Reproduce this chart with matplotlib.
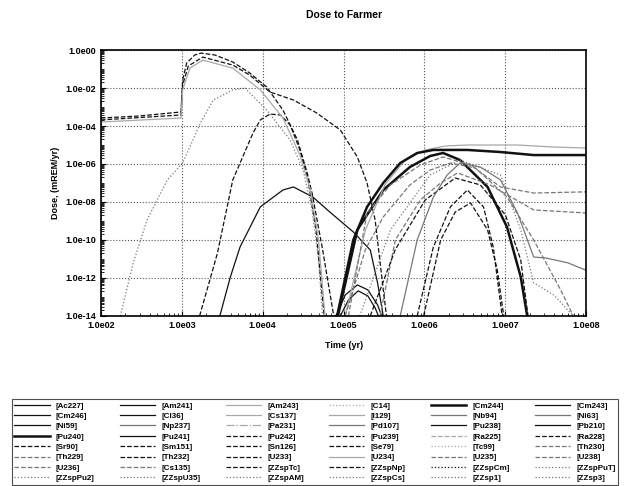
import numpy as np
import matplotlib.pyplot as plt
from matplotlib.ticker import FixedLocator, FuncFormatter, LogLocator, NullFormatter

plt.rcParams['font.family'] = ['Liberation Sans', 'DejaVu Sans']
plt.rcParams['font.weight'] = 'bold'

# legend entries, column by column (6 columns x 8 rows)
labels = [
    '[Ac227]', '[Cm246]', '[Ni59]', '[Pu240]', '[Sr90]', '[Th229]', '[U236]', '[ZZspPu2]',
    '[Am241]', '[Cl36]', '[Np237]', '[Pu241]', '[Sm151]', '[Th232]', '[Cs135]', '[ZZspU35]',
    '[Am243]', '[Cs137]', '[Pa231]', '[Pu242]', '[Sn126]', '[U233]', '[ZZspTc]', '[ZZspAM]',
    '[C14]', '[I129]', '[Pd107]', '[Pu239]', '[Se79]', '[U234]', '[ZZspNp]', '[ZZspCs]',
    '[Cm244]', '[Nb94]', '[Pu238]', '[Ra225]', '[Tc99]', '[U235]', '[ZZspCm]', '[ZZsp1]',
    '[Cm243]', '[Ni63]', '[Pb210]', '[Ra228]', '[Th230]', '[U238]', '[ZZspPuT]', '[ZZsp3]',
]

# log10(time yr), log10(dose mREM/yr)
curves = {
    '[Ac227]': ([3.47, 3.60, 3.72, 3.97, 4.25, 4.38, 4.62, 4.83, 5.12, 5.33, 5.42, 5.49],
                [-14, -11.95, -10.37, -8.26, -7.37, -7.21, -7.74, -8.53, -9.58, -10.53, -12.26, -14]),
    '[Cm246]': ([4.91, 5.02, 5.17, 5.30, 5.42, 5.47],
                [-14, -12.9, -12.37, -12.63, -13.42, -14]),
    '[Ni59]': ([4.96, 5.06, 5.18, 5.30, 5.39, 5.43],
               [-14, -13.16, -12.68, -12.95, -13.58, -14]),
    '[Pu240]': ([4.93, 5.17, 5.49, 5.82, 6.07, 6.23, 6.44, 6.78, 7.02, 7.19, 7.27],
                [-14, -9.47, -7.37, -6.16, -5.58, -5.42, -5.79, -7.21, -9.32, -11.95, -14]),
    '[Sr90]': ([2.0, 2.48, 2.99, 3.01, 3.06, 3.16, 3.24, 3.41, 3.63, 3.84, 4.05, 4.25, 4.43, 4.55, 4.61, 4.74, 4.87, 4.9],
               [-3.58, -3.47, -3.26, -1.58, -0.68, -0.26, -0.16, -0.26, -0.63, -1.21, -1.95, -3.16, -4.74, -6.47, -7.53, -10.5, -13.8, -14]),
    '[Sm151]': ([2.0, 2.99, 3.01, 3.08, 3.26, 3.63, 3.84, 4.09, 4.38, 4.67, 4.96, 5.17, 5.29, 5.39, 5.49, 5.53],
                [-3.68, -3.42, -1.84, -0.84, -0.37, -0.79, -1.32, -2.21, -2.63, -3.32, -4.21, -5.63, -7.0, -8.95, -12.6, -14]),
    '[Cs137]': ([2.0, 2.99, 3.01, 3.10, 3.26, 3.63, 3.97, 4.25, 4.46, 4.59, 4.69, 4.77],
                [-3.79, -3.58, -2.1, -0.95, -0.53, -0.95, -2.1, -3.58, -5.53, -7.37, -10.0, -14]),
    '[ZZspPu2]': ([2.24, 2.40, 2.57, 2.82, 3.01, 3.23, 3.39, 3.63, 3.78, 4.05, 4.34, 4.50, 4.61, 4.69, 4.74],
                  [-14, -11.2, -8.95, -6.84, -5.95, -3.84, -2.63, -2.1, -2.0, -3.16, -4.74, -6.32, -8.42, -11.05, -14]),
    '[Th232]': ([3.22, 3.44, 3.63, 3.72, 3.88, 3.97, 4.09, 4.22, 4.34, 4.46, 4.56, 4.66, 4.76],
                [-14, -10.7, -6.84, -5.95, -4.37, -3.68, -3.37, -3.42, -3.95, -5.26, -6.84, -9.47, -14]),
    '[Cm244]': ([4.92, 5.12, 5.29, 5.49, 5.70, 5.91, 6.11, 6.53, 6.94, 7.35, 8.0],
                [-14, -10.0, -8.26, -7.0, -5.95, -5.42, -5.26, -5.26, -5.37, -5.53, -5.53]),
    '[I129]': ([5.02, 5.27, 5.51, 5.76, 6.01, 6.26, 6.53, 7.15, 7.56, 8.0],
               [-14, -9.47, -7.1, -5.79, -5.26, -5.05, -5.0, -5.0, -5.1, -5.16]),
    '[Pd107]': ([5.70, 5.91, 6.11, 6.28, 6.44, 6.69, 6.94, 7.15, 7.35, 7.50, 7.77, 8.0],
                [-14, -10.0, -7.74, -6.58, -5.95, -6.16, -6.84, -8.58, -10.9, -10.95, -11.2, -11.6]),
    '[Th230]': ([5.02, 5.27, 5.49, 5.82, 6.07, 6.32, 6.63, 7.02, 7.35, 7.68, 7.84],
                [-14, -10.5, -8.79, -7.1, -6.32, -5.95, -6.21, -7.74, -10.0, -12.6, -14]),
    '[Pu242]': ([5.91, 6.11, 6.32, 6.53, 6.73, 6.85, 6.96],
                [-14, -10.37, -8.26, -7.37, -8.26, -10.37, -14]),
    '[Sn126]': ([5.99, 6.20, 6.38, 6.57, 6.78, 6.90, 6.98],
                [-14, -10.0, -8.53, -8.05, -9.47, -11.58, -14]),
    '[U238]': ([5.06, 5.29, 5.58, 5.95, 6.23, 6.57, 6.94, 7.35, 7.97, 8.0],
               [-14, -8.58, -7.1, -6.05, -5.63, -6.05, -7.21, -7.53, -7.47, -7.47]),
    '[Th229]': ([5.45, 5.64, 5.95, 6.20, 6.41, 6.81, 7.35, 8.0],
                [-14, -10.0, -7.89, -7.0, -6.47, -7.1, -8.42, -8.58]),
    '[U233]': ([5.33, 5.64, 6.01, 6.38, 6.69, 7.0, 7.19, 7.28],
               [-14, -10.5, -7.89, -6.74, -7.1, -8.68, -11.05, -14]),
    '[ZZsp1]': ([5.2, 5.58, 6.07, 6.44, 6.94, 7.19, 7.35, 7.6, 7.84],
                [-14, -9.47, -6.58, -5.79, -6.58, -9.47, -12.26, -12.9, -14]),
    '[Am241]': ([2.0, 8.0], [-14, -14]),
}

K, G, L = '#111111', '#777777', '#a8a8a8'
styles = [
    (K, '-'), (K, '-'), (K, '-'), (K, '-'), (K, '--'), (G, '--'), (G, '--'), (G, ':'),
    (K, '-'), (K, '-'), (G, '-'), (K, '-'), (K, '--'), (K, '--'), (G, '--'), (G, ':'),
    (L, '-'), (L, '-'), (L, '-.'), (K, '--'), (K, '--'), (K, '--'), (K, '--'), (G, ':'),
    (L, ':'), (L, '-'), (G, '-'), (K, '--'), (K, '--'), (L, '-'), (K, '--'), (G, ':'),
    (K, '-'), (G, '-'), (K, '-'), (L, '--'), (L, ':'), (G, '--'), (K, ':'), (G, ':'),
    (K, '-'), (G, '-'), (K, '-'), (K, '--'), (G, '--'), (G, '--'), (G, ':'), (G, ':'),
]
thick = ['[Cm244]', '[Pu240]']

fig = plt.figure(figsize=(6.27, 4.86), dpi=100)
ax = fig.add_axes([0.161, 0.35, 0.774, 0.547])

handles = []
for lab, (col, ls) in zip(labels, styles):
    lw = 1.8 if lab in thick else 0.9
    if lab in curves:
        t, d = curves[lab]
        h, = ax.plot(10.0 ** np.array(t), 10.0 ** np.array(d), color=col, ls=ls, lw=lw)
    else:
        h, = ax.plot([], [], color=col, ls=ls, lw=lw)
    handles.append(h)

ax.set_xscale('log')
ax.set_yscale('log')
ax.set_xlim(1e2, 1e8)
ax.set_ylim(1e-14, 1e0)

def fmt(v, pos):
    e = int(round(np.log10(v)))
    return '1.0e%s%02d' % ('-' if e < 0 else '', abs(e))

ax.xaxis.set_major_locator(FixedLocator([10.0 ** k for k in range(2, 9)]))
ax.yaxis.set_major_locator(FixedLocator([10.0 ** k for k in range(-14, 1, 2)]))
ax.xaxis.set_major_formatter(FuncFormatter(fmt))
ax.yaxis.set_major_formatter(FuncFormatter(fmt))
ax.xaxis.set_minor_locator(LogLocator(base=10, subs=np.arange(2, 10), numticks=100))
ax.yaxis.set_minor_locator(LogLocator(base=10, subs=np.arange(1, 10), numticks=100))
ax.xaxis.set_minor_formatter(NullFormatter())
ax.yaxis.set_minor_formatter(NullFormatter())
ax.tick_params(which='both', direction='in', labelsize=6.5)
ax.tick_params(which='minor', length=2)
ax.grid(True, which='major', ls=':', color='#555555', lw=0.8)
for s in ax.spines.values():
    s.set_linewidth(1.2)

ax.set_title('Dose to Farmer', fontsize=7.5, fontweight='bold', pad=23)
ax.set_xlabel('Time (yr)', fontsize=6.5, fontweight='bold', labelpad=8)
ax.set_ylabel('Dose, (mREM/yr)', fontsize=6.5, fontweight='bold', labelpad=4)

leg = fig.legend(handles, labels, ncol=6, loc='center', mode='expand',
                 bbox_to_anchor=(0.016, 0.004, 0.973, 0.173), fontsize=5.8,
                 handlelength=4.4, labelspacing=0.34, columnspacing=1.0,
                 fancybox=False, borderaxespad=0.2, borderpad=0.3)
leg.get_frame().set_edgecolor('#222222')
leg.get_frame().set_linewidth(0.8)

fig.savefig('out.png', dpi=100)
